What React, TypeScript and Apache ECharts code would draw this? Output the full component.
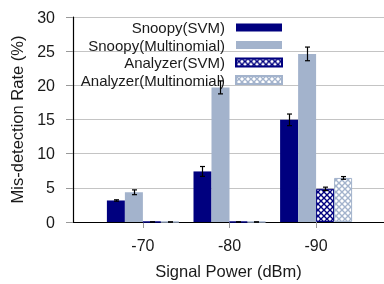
import React, { useEffect, useRef } from "react";
import * as echarts from "echarts";

const categories = ["-70", "-80", "-90"];
const categoryPositions = [0, 1, 2];
const seriesNames = ["Snoopy(SVM)", "Snoopy(Multinomial)", "Analyzer(SVM)", "Analyzer(Multinomial)"];
const snoopySVM = [3.15, 7.4, 14.95];
const snoopySVMErr = [0.1, 0.72, 0.85];
const snoopyMulti = [4.35, 19.7, 24.6];
const snoopyMultiErr = [0.35, 0.95, 1.0];
const analyzerSVM = [0, 0, 4.85];
const analyzerSVMErr = [0, 0, 0.25];
const analyzerMulti = [0, 0, 6.45];
const analyzerMultiErr = [0, 0, 0.2];

const NAVY = "#00007f";
const LIGHT = "#a3b3cc";
const FONT = "Liberation Sans, Arial, Helvetica, sans-serif";

function makeHatch(color: string) {
  const c = document.createElement("canvas");
  c.width = 6;
  c.height = 6;
  const g = c.getContext("2d")!;
  g.fillStyle = "#ffffff";
  g.fillRect(0, 0, 6, 6);
  g.strokeStyle = color;
  g.lineWidth = 1.4;
  g.beginPath();
  g.moveTo(-1, -1);
  g.lineTo(7, 7);
  g.moveTo(-1, 7);
  g.lineTo(7, -1);
  g.stroke();
  return { image: c, repeat: "repeat" } as any;
}

export default function App() {
  const ref = useRef<HTMLDivElement>(null);
  useEffect(() => {
    if (!ref.current) return;
    const chart = echarts.init(ref.current, null, { renderer: "svg" });
    const values = [snoopySVM, snoopyMulti, analyzerSVM, analyzerMulti];
    const errs = [snoopySVMErr, snoopyMultiErr, analyzerSVMErr, analyzerMultiErr];
    const colors: any[] = [NAVY, LIGHT, makeHatch(NAVY), makeHatch(LIGHT)];
    const borders = [NAVY, LIGHT, NAVY, LIGHT];
    const barW = 18;

    const barSeries = seriesNames.map((name, s) => ({
      name,
      type: "bar",
      barWidth: barW,
      barGap: "0%",
      data: categoryPositions.map((x, i) => [x, values[s][i]]),
      itemStyle: {
        color: colors[s],
        borderColor: borders[s],
        borderWidth: s >= 2 ? 1 : 0,
      },
      z: 2,
    }));

    const errData: number[][] = [];
    seriesNames.forEach((_, s) => {
      categoryPositions.forEach((x, i) => {
        errData.push([x, values[s][i], errs[s][i], s]);
      });
    });

    const errSeries = {
      name: "err",
      type: "custom",
      z: 5,
      renderItem: (params: any, api: any) => {
        const x = api.value(0);
        const v = api.value(1);
        const e = api.value(2);
        const s = api.value(3);
        const off = (s - 1.5) * barW;
        const top = api.coord([x, v + e]);
        const bot = api.coord([x, v - e]);
        const px = Math.round(top[0] + off) + 0.5;
        const cw = 2.5;
        const st = { stroke: "#000", lineWidth: 1.2 };
        return {
          type: "group",
          children: [
            { type: "line", shape: { x1: px, y1: top[1], x2: px, y2: bot[1] }, style: st },
            { type: "line", shape: { x1: px - cw, y1: top[1], x2: px + cw, y2: top[1] }, style: st },
            { type: "line", shape: { x1: px - cw, y1: bot[1], x2: px + cw, y2: bot[1] }, style: st },
          ],
        };
      },
      data: errData,
    };

    chart.setOption({
      animation: false,
      textStyle: { fontFamily: FONT },
      grid: { left: 68, right: 0, top: 17, height: 207, containLabel: false },
      legend: {
        orient: "vertical",
        align: "right",
        right: 101,
        top: 20,
        padding: 0,
        itemWidth: 46,
        itemHeight: 8,
        itemGap: 2.5,
        icon: "rect",
        data: seriesNames,
        textStyle: { fontSize: 15, color: "#1a1a1a", fontFamily: FONT, padding: [0, 6, 0, 0] },
      },
      xAxis: {
        type: "value",
        min: -0.807,
        max: 2.784,
        name: "Signal Power (dBm)",
        nameLocation: "middle",
        nameGap: 40,
        nameTextStyle: { fontSize: 16.5, color: "#1a1a1a", fontFamily: FONT },
        axisLine: { show: true, onZero: false, lineStyle: { color: "#000", width: 1.2 } },
        axisTick: { show: true, length: 6, customValues: categoryPositions, lineStyle: { color: "#999" } },
        axisLabel: {
          customValues: categoryPositions,
          formatter: (v: number) => categories[Math.round(v)] ?? "",
          fontSize: 16,
          color: "#1a1a1a",
          margin: 15,
          fontFamily: FONT,
        },
        splitLine: { show: false },
      },
      yAxis: {
        type: "value",
        min: 0,
        max: 30,
        interval: 5,
        name: "Mis-detection Rate (%)",
        nameLocation: "middle",
        nameGap: 48,
        nameTextStyle: { fontSize: 16.5, color: "#1a1a1a", fontFamily: FONT },
        axisLine: { show: true, onZero: false, lineStyle: { color: "#000", width: 1.2 } },
        axisTick: { show: true, length: 7, inside: false, lineStyle: { color: "#999" } },
        axisLabel: {
          fontSize: 16,
          color: "#1a1a1a",
          margin: 18,
          fontFamily: FONT,
        },
        splitLine: { show: true, lineStyle: { color: "#c4c4c4", width: 1 } },
      },
      series: [...barSeries, errSeries],
    });
    return () => chart.dispose();
  }, []);
  return <div ref={ref} style={{ width: 384, height: 284, position: "fixed", left: 0, top: 0 }} />;
}
